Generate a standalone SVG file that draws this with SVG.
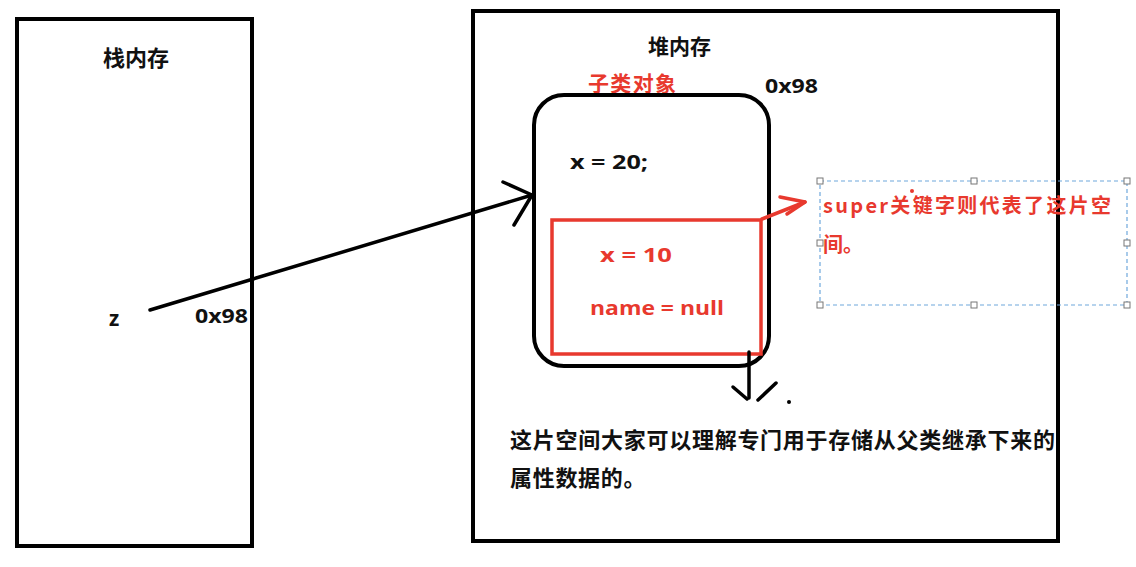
<svg xmlns="http://www.w3.org/2000/svg" width="1136" height="567" viewBox="0 0 1136 567">
<style>
.box{fill:none;stroke:#000;stroke-width:4}
.cjk{font-family:"Noto Sans CJK SC","Noto Sans",sans-serif;font-weight:bold}
.lat{font-family:"Open Sans","Liberation Sans",sans-serif;font-weight:bold}
.blk{fill:#111}
.red{fill:#e8392e}
.ln{fill:none;stroke:#000;stroke-width:3.5;stroke-linecap:round;stroke-linejoin:round}
.rln{fill:none;stroke:#e8392e;stroke-width:3.5;stroke-linecap:round;stroke-linejoin:round}
.sel{fill:none;stroke:#6fa8dc;stroke-width:1.2;stroke-dasharray:4 3}
.h{fill:#fff;stroke:#777;stroke-width:1}
</style>
<rect width="1136" height="567" fill="#fff"/>
<g id="stack">
<rect class="box" x="17" y="19" width="235" height="527"/>
<text class="cjk blk" x="103" y="66" font-size="22">栈内存</text>
<text class="lat blk" x="109" y="326" font-size="21">z</text>
<text class="lat blk" x="195" y="323" font-size="20" textLength="53" lengthAdjust="spacingAndGlyphs">0x98</text>
</g>
<g id="heap">
<rect class="box" x="473" y="11" width="585" height="530"/>
<text class="cjk blk" x="648" y="54" font-size="21">堆内存</text>
<text class="cjk red" x="588" y="91" font-size="21" textLength="88">子类对象</text>
<text class="lat blk" x="765" y="93" font-size="20" textLength="53" lengthAdjust="spacingAndGlyphs">0x98</text>
</g>
<g id="object">
<rect class="box" x="534" y="95" width="235" height="271" rx="30" ry="30"/>
<text class="lat blk" x="570" y="169" font-size="20" textLength="78" lengthAdjust="spacingAndGlyphs">x = 20;</text>
</g>
<g id="super-part">
<rect x="552" y="220" width="209" height="134" fill="none" stroke="#e8392e" stroke-width="3.5"/>
<text class="lat red" x="600" y="262" font-size="20" textLength="72" lengthAdjust="spacingAndGlyphs">x = 10</text>
<text class="lat red" x="590" y="315" font-size="20" textLength="134" lengthAdjust="spacingAndGlyphs">name = null</text>
</g>
<g id="note-super">
<rect class="sel" x="820" y="181" width="307" height="124"/>
<rect class="h" x="817" y="178" width="6" height="6"/>
<rect class="h" x="971" y="178" width="6" height="6"/>
<rect class="h" x="1124" y="178" width="6" height="6"/>
<rect class="h" x="817" y="240" width="6" height="6"/>
<rect class="h" x="1124" y="240" width="6" height="6"/>
<rect class="h" x="817" y="302" width="6" height="6"/>
<rect class="h" x="971" y="302" width="6" height="6"/>
<rect class="h" x="1124" y="302" width="6" height="6"/>
<text class="cjk red" x="823" y="213" font-size="20" textLength="288">super关键字则代表了这片空</text>
<text class="cjk red" x="823" y="252" font-size="20">间。</text>
<circle cx="912" cy="191" r="2" fill="#e8392e"/>
</g>
<g id="note-bottom">
<text class="cjk blk" x="510" y="448" font-size="22" textLength="545">这片空间大家可以理解专门用于存储从父类继承下来的</text>
<text class="cjk blk" x="510" y="486" font-size="22" letter-spacing="0.7">属性数据的。</text>
</g>
<g id="connectors">
<path class="ln" d="M150 310 L532 195"/>
<path class="ln" d="M503 182 L532 195 L514 225"/>
<path class="rln" d="M762 219 L805 202"/>
<path class="rln" d="M780 197 L805 202 L787 214"/>
<path class="ln" d="M749 352 L749 398"/>
<path class="ln" d="M733 387 L747 399"/>
<path class="ln" d="M758 400 L776 383"/>
<circle cx="789" cy="402" r="2" fill="#000"/>
</g>
</svg>
